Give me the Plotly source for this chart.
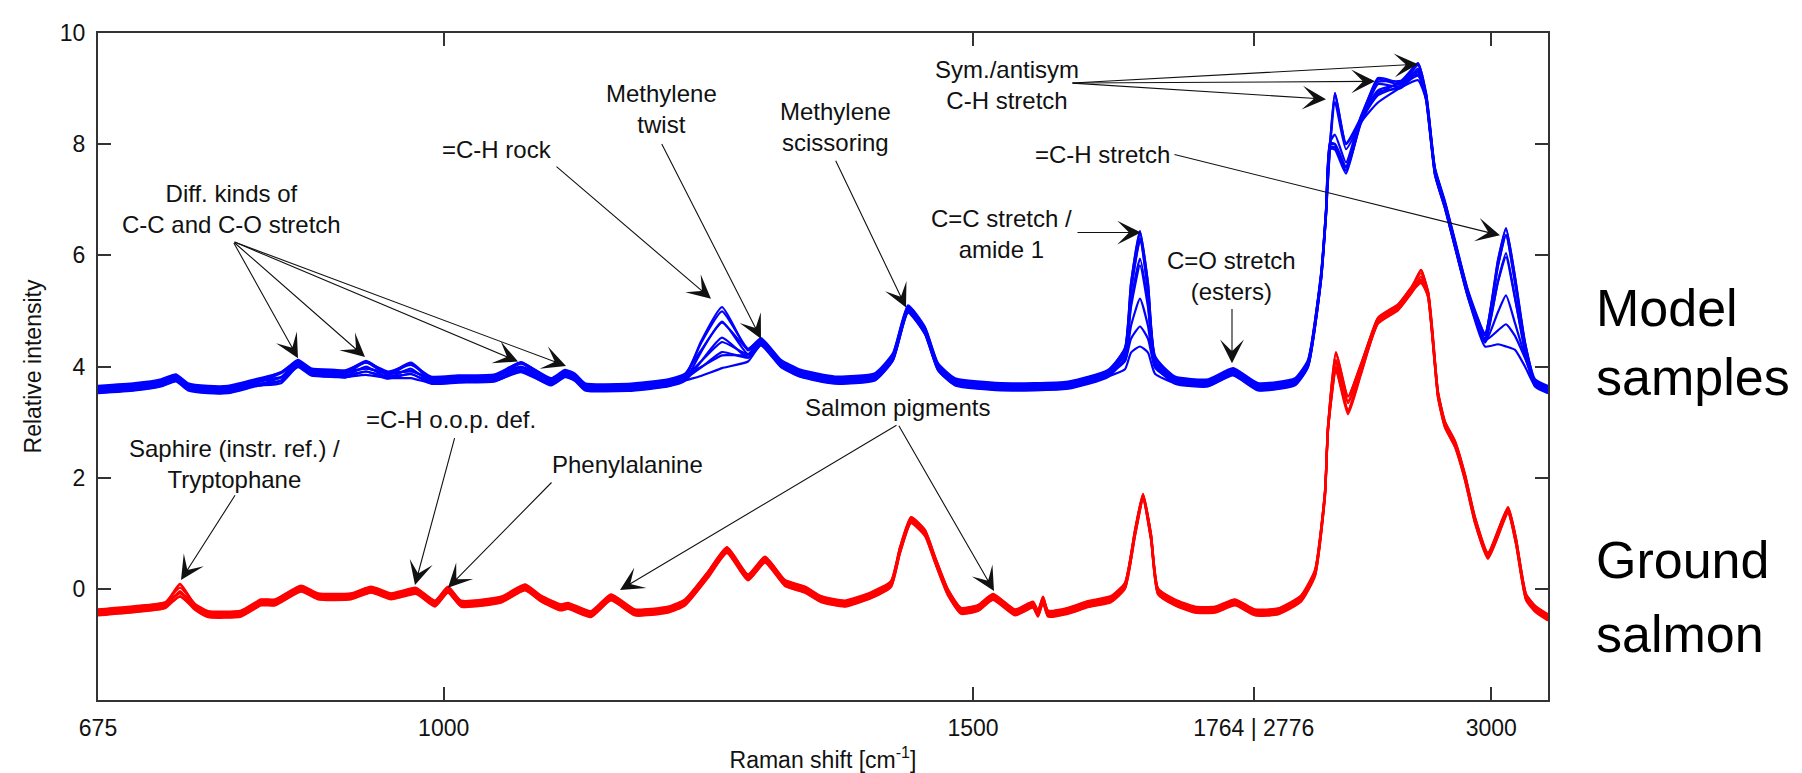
import plotly.graph_objects as go

# ---------------- data ----------------
# x positions are detector channels (the axis is drawn in channel units,
# Raman-shift labels are placed at the channels where they fall)
X_TICK_CHANNELS = [0, 345.7, 875, 1155.7, 1393.3]
X_TICK_LABELS = ["675", "1000", "1500", "1764 | 2776", "3000"]
Y_TICKS = [0, 2, 4, 6, 8, 10]

# Model samples (blue): shared profile + per-sample values at varying peaks
BLUE_X = [0, 37, 63, 78, 90, 110, 130, 157, 183, 200, 213, 237, 247, 268, 290, 313,
          333, 360, 397, 423, 453, 467, 477, 487, 530, 570, 587, 603, 624, 650, 663,
          683, 703, 737, 777, 795, 810, 827, 840, 857, 903, 970, 1010, 1027, 1033,
          1042, 1050, 1057, 1077, 1110, 1135, 1160, 1197, 1210, 1223, 1228, 1232,
          1237, 1248, 1263, 1280, 1303, 1320, 1328, 1337, 1347, 1357, 1370, 1387,
          1400, 1408, 1417, 1427, 1437, 1450]
BLUE_BASE = [3.58, 3.63, 3.70, 3.79, 3.63, 3.58, 3.58, 3.70, 3.86, 4.05, 3.90, 3.87,
             3.86, 4.08, 3.84, 4.05, 3.75, 3.77, 3.79, 4.05, 3.72, 3.87, 3.80, 3.63,
             3.62, 3.70, 3.80, 4.45, 5.07, 4.29, 4.44, 4.05, 3.87, 3.75, 3.81, 4.17,
             5.03, 4.64, 3.99, 3.72, 3.63, 3.66, 3.87, 4.24, 5.50, 6.42, 5.50, 4.11,
             3.75, 3.70, 3.90, 3.63, 3.72, 4.05, 5.60, 6.76, 7.97, 8.92, 7.97, 8.44,
             9.16, 9.07, 9.42, 8.86, 7.50, 6.90, 6.20, 5.30, 4.56, 5.90, 6.48, 5.60,
             4.40, 3.70, 3.58]
BLUE_VARIANTS = {
    183: [3.88, 3.86, 3.84, 3.82, 3.80, 3.78, 3.77, 3.76, 3.75],
    268: [4.08, 4.06, 4.04, 4.00, 3.97, 3.95, 3.93, 3.91, 3.90],
    313: [4.05, 4.03, 4.00, 3.96, 3.93, 3.90, 3.88, 3.86, 3.84],
    423: [4.05, 4.04, 4.02, 4.00, 3.98, 3.97, 3.96, 3.95, 3.95],
    603: [4.45, 4.38, 4.30, 4.22, 4.15, 4.07, 4.00, 3.94, 3.88],
    624: [5.07, 4.95, 4.85, 4.72, 4.58, 4.42, 4.28, 4.15, 4.02],
    650: [4.29, 4.28, 4.26, 4.24, 4.22, 4.20, 4.18, 4.16, 4.14],
    1027: [4.30, 4.30, 4.28, 4.25, 4.22, 4.20, 4.12, 4.05, 4.00],
    1033: [5.50, 5.45, 5.40, 5.30, 5.20, 5.05, 4.75, 4.45, 4.30],
    1042: [6.42, 6.40, 6.35, 6.20, 6.00, 5.80, 5.24, 4.67, 4.41],
    1050: [5.50, 5.45, 5.40, 5.30, 5.20, 5.05, 4.75, 4.45, 4.30],
    1057: [4.15, 4.15, 4.13, 4.10, 4.08, 4.05, 4.00, 3.95, 3.92],
    1237: [8.92, 8.88, 8.80, 8.10, 8.00, 7.98, 7.97, 7.95, 7.95],
    1248: [8.00, 7.98, 7.95, 7.60, 7.58, 7.56, 7.55, 7.55, 7.52],
    1280: [9.16, 9.15, 9.12, 9.05, 9.00, 8.95, 8.90, 8.85, 8.80],
    1320: [9.42, 9.42, 9.40, 9.38, 9.35, 9.30, 9.25, 9.20, 9.20],
    1387: [4.56, 4.55, 4.55, 4.53, 4.50, 4.48, 4.45, 4.42, 4.41],
    1400: [5.90, 5.88, 5.85, 5.75, 5.60, 5.50, 5.00, 4.60, 4.45],
    1408: [6.48, 6.45, 6.40, 6.30, 6.10, 5.95, 5.30, 4.71, 4.41],
    1417: [5.60, 5.58, 5.55, 5.45, 5.30, 5.20, 4.80, 4.50, 4.35],
    1427: [4.40, 4.40, 4.38, 4.35, 4.32, 4.30, 4.20, 4.10, 4.05],
}
BLUE_OFFSETS = [0.0, 0.04, -0.04, 0.07, -0.06, 0.02, -0.02, 0.05, -0.05]

# Ground salmon (red)
RED_X = [0, 37, 67, 82, 97, 110, 143, 163, 177, 203, 220, 253, 273, 293, 303, 318,
         337, 350, 363, 403, 427, 443, 463, 470, 493, 513, 537, 570, 587, 610, 629,
         650, 667, 687, 707, 723, 747, 773, 793, 802, 813, 827, 837, 850, 863, 880,
         895, 917, 935, 940, 945, 950, 970, 990, 1013, 1027, 1037, 1045, 1053, 1060,
         1077, 1097, 1117, 1137, 1157, 1180, 1203, 1217, 1227, 1230, 1238, 1250,
         1263, 1280, 1300, 1313, 1323, 1330, 1340, 1347, 1357, 1367, 1377, 1390,
         1410, 1418, 1428, 1437, 1450]
RED_BASE = [-0.43, -0.37, -0.30, 0.08, -0.33, -0.46, -0.45, -0.25, -0.25, 0.00, -0.14,
            -0.14, -0.02, -0.14, -0.10, -0.04, -0.27, -0.02, -0.27, -0.20, 0.02, -0.18,
            -0.34, -0.31, -0.46, -0.16, -0.43, -0.38, -0.25, 0.25, 0.69, 0.20, 0.52,
            0.10, -0.02, -0.19, -0.27, -0.12, 0.08, 0.69, 1.23, 1.00, 0.52, -0.07,
            -0.40, -0.35, -0.15, -0.43, -0.29, -0.45, -0.20, -0.45, -0.40, -0.28,
            -0.19, 0.05, 1.00, 1.65, 0.93, -0.05, -0.25, -0.38, -0.38, -0.25, -0.43,
            -0.41, -0.18, 0.28, 1.71, 2.88, 4.26, 3.30, 4.05, 4.82, 5.06, 5.36, 5.74,
            5.30, 3.49, 2.95, 2.60, 2.00, 1.23, 0.59, 1.41, 0.85, -0.15, -0.36, -0.52]
RED_VARIANTS = {
    82: [0.08, 0.05, 0.00, -0.04, -0.08, -0.10, -0.12, -0.12],
    1238: [4.26, 4.20, 4.12, 4.06, 4.00, 3.98, 3.95, 3.92],
    1250: [3.46, 3.42, 3.38, 3.32, 3.26, 3.20, 3.16, 3.13],
    1263: [4.05, 4.00, 3.98, 3.95, 3.93, 3.90, 3.88, 3.85],
    1323: [5.74, 5.70, 5.66, 5.62, 5.58, 5.55, 5.52, 5.50],
}
RED_OFFSETS = [0.0, 0.04, -0.04, 0.06, -0.05, 0.02, -0.02, 0.05]

# peak annotations: (text, x, y)
LABELS = [
    ("Diff. kinds of<br>C-C and C-O stretch", 133, 6.84),
    ("=C-H rock", 399, 7.90),
    ("Methylene<br>twist", 563, 8.64),
    ("Methylene<br>scissoring", 737, 8.30),
    ("Sym./antisym<br>C-H stretch", 909, 9.07),
    ("=C-H stretch", 1004, 7.82),
    ("C=C stretch /<br>amide 1", 903, 6.39),
    ("C=O stretch<br>(esters)", 1133, 5.63),
    ("Saphire (instr. ref.) /<br>Tryptophane", 136, 2.24),
    ("=C-H o.o.p. def.", 353, 3.04),
    ("Phenylalanine", 529, 2.24),
    ("Salmon pigments", 799, 3.26),
]
# arrows: (tail x, tail y, head x, head y)
ARROWS = [
    (135, 6.25, 200, 4.15), (135, 6.25, 267, 4.17), (135, 6.25, 420, 4.09),
    (135, 6.25, 468, 4.01),
    (457, 7.62, 613, 5.22),
    (563, 8.03, 663, 4.50),
    (737, 7.73, 808, 5.06),
    (973, 9.10, 1228, 8.81), (973, 9.10, 1277, 9.13), (973, 9.10, 1320, 9.44),
    (1075, 7.82, 1402, 6.36),
    (978, 6.41, 1043, 6.41),
    (1134, 5.06, 1134, 4.06),
    (138, 1.71, 83, 0.16),
    (357, 2.74, 317, 0.07),
    (455, 1.94, 350, 0.02),
    (800, 2.96, 522, -0.02), (800, 2.96, 896, -0.04),
]
# group labels at the right: (text, y)
GROUP_LABELS = [("Model", 5.06), ("samples", 3.81), ("Ground", 0.52), ("salmon", -0.82)]

# ---------------- figure ----------------
FONT = "Liberation Sans, Arial, sans-serif"
INK = "#111111"


def sample_curves(base, xs, variants, offsets):
    curves = []
    for i, off in enumerate(offsets):
        ys = [(variants[x][i] if x in variants else b) + off for x, b in zip(xs, base)]
        curves.append(ys)
    return curves


fig = go.Figure()
for ys in sample_curves(RED_BASE, RED_X, RED_VARIANTS, RED_OFFSETS):
    fig.add_trace(go.Scatter(x=RED_X, y=ys, mode="lines",
                             line=dict(color="#ff0000", width=2.2, shape="spline", smoothing=0.5),
                             showlegend=False, hoverinfo="skip"))
for ys in sample_curves(BLUE_BASE, BLUE_X, BLUE_VARIANTS, BLUE_OFFSETS):
    fig.add_trace(go.Scatter(x=BLUE_X, y=ys, mode="lines",
                             line=dict(color="#0000ff", width=2.2, shape="spline", smoothing=0.5),
                             showlegend=False, hoverinfo="skip"))

annotations = []
for text, x, y in LABELS:
    annotations.append(dict(x=x, y=y, xref="x", yref="y", text=text, showarrow=False,
                            xanchor="center", yanchor="middle", align="center",
                            font=dict(family=FONT, size=24, color=INK)))
for tx, ty, hx, hy in ARROWS:
    annotations.append(dict(x=hx, y=hy, ax=tx, ay=ty, xref="x", yref="y",
                            axref="x", ayref="y", text="", showarrow=True,
                            arrowhead=3, arrowsize=3.6, arrowwidth=1.1, arrowcolor=INK))
for text, y in GROUP_LABELS:
    annotations.append(dict(x=1.0317, y=y, xref="paper", yref="y", text=text,
                            showarrow=False, xanchor="left", yanchor="middle",
                            font=dict(family=FONT, size=52, color="#000000")))

fig.update_layout(
    width=1802, height=773,
    margin=dict(l=90, r=262, t=19, b=79),
    paper_bgcolor="white", plot_bgcolor="white",
    annotations=annotations,
    font=dict(family=FONT, size=23, color=INK),
    xaxis=dict(range=[0, 1450], tickvals=X_TICK_CHANNELS, ticktext=X_TICK_LABELS,
               ticks="inside", ticklen=13, tickwidth=1.5, tickcolor="#333333",
               showline=True, linecolor="#333333", linewidth=2, mirror="ticks",
               showgrid=False, zeroline=False, ticklabelstandoff=6,
               tickfont=dict(family=FONT, size=23, color=INK),
               title=dict(text="Raman shift [cm<sup>-1</sup>]", standoff=12,
                          font=dict(family=FONT, size=23, color=INK))),
    yaxis=dict(range=[-2, 10], tickvals=Y_TICKS,
               ticks="inside", ticklen=13, tickwidth=1.5, tickcolor="#333333",
               showline=True, linecolor="#333333", linewidth=2, mirror="ticks",
               showgrid=False, zeroline=False, ticklabelstandoff=6,
               tickfont=dict(family=FONT, size=23, color=INK),
               title=dict(text="Relative intensity", standoff=12,
                          font=dict(family=FONT, size=23, color=INK))),
)

fig.write_html("out.html")
